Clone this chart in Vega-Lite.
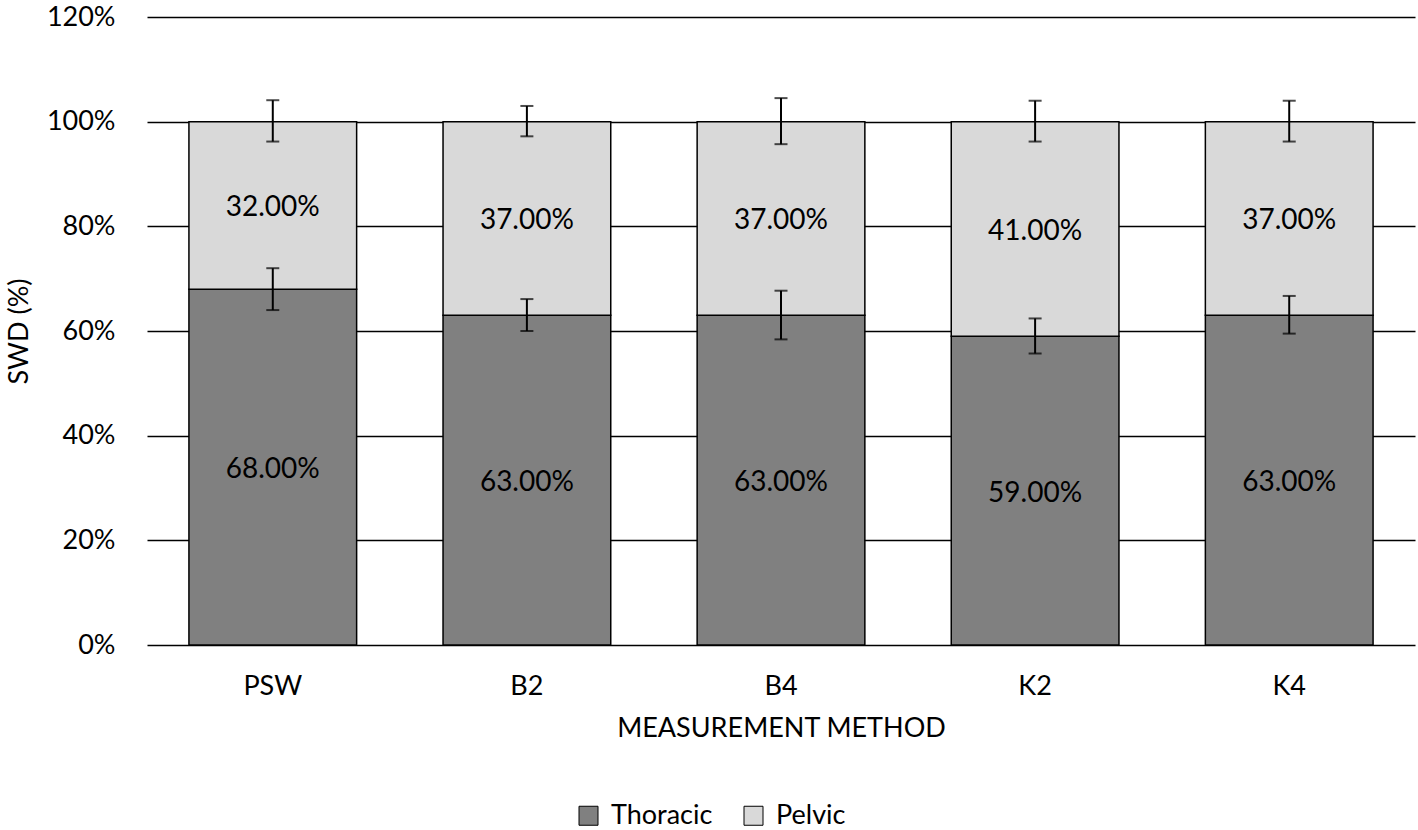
{
  "$schema": "https://vega.github.io/schema/vega-lite/v6.json",
  "autosize": {"type": "none"},
  "width": 1268,
  "height": 628,
  "padding": {"left": 147, "top": 17, "right": 3, "bottom": 185},
  "background": "white",
  "config": {
    "font": "Lato",
    "view": {"stroke": null},
    "axis": {"labelFont": "Lato", "titleFont": "Lato", "labelColor": "#000", "titleColor": "#000", "titleFontWeight": "normal"}
  },
  "data": {
    "values": [
      {"method": "PSW", "part": "Thoracic", "order": 1, "value": 0.68, "lo": 0.64, "hi": 0.72},
      {"method": "PSW", "part": "Pelvic", "order": 2, "value": 0.32, "lo": 0.962, "hi": 1.041},
      {"method": "B2", "part": "Thoracic", "order": 1, "value": 0.63, "lo": 0.60, "hi": 0.661},
      {"method": "B2", "part": "Pelvic", "order": 2, "value": 0.37, "lo": 0.972, "hi": 1.03},
      {"method": "B4", "part": "Thoracic", "order": 1, "value": 0.63, "lo": 0.584, "hi": 0.677},
      {"method": "B4", "part": "Pelvic", "order": 2, "value": 0.37, "lo": 0.957, "hi": 1.045},
      {"method": "K2", "part": "Thoracic", "order": 1, "value": 0.59, "lo": 0.557, "hi": 0.624},
      {"method": "K2", "part": "Pelvic", "order": 2, "value": 0.41, "lo": 0.962, "hi": 1.04},
      {"method": "K4", "part": "Thoracic", "order": 1, "value": 0.63, "lo": 0.595, "hi": 0.667},
      {"method": "K4", "part": "Pelvic", "order": 2, "value": 0.37, "lo": 0.962, "hi": 1.04}
    ]
  },
  "encoding": {
    "x": {
      "field": "method", "type": "nominal", "sort": ["PSW", "B2", "B4", "K2", "K4"],
      "scale": {"paddingInner": 0.34, "paddingOuter": 0.165},
      "axis": {"title": "MEASUREMENT METHOD", "labelAngle": 0, "labelFontSize": 27, "titleFontSize": 27, "labelPadding": 28, "titlePadding": 16, "ticks": false, "domain": false}
    }
  },
  "layer": [
    {
      "mark": {"type": "bar", "stroke": "#000", "strokeWidth": 1.5},
      "encoding": {
        "y": {
          "field": "value", "type": "quantitative", "stack": "zero",
          "scale": {"domain": [0, 1.2]},
          "axis": {"title": "SWD (%)", "format": ".0%", "values": [0, 0.2, 0.4, 0.6, 0.8, 1.0, 1.2], "labelFontSize": 27, "titleFontSize": 27, "labelPadding": 32, "titlePadding": 13, "ticks": false, "domain": false, "grid": true, "gridColor": "#000", "gridWidth": 1.5, "gridOpacity": 1}
        },
        "color": {
          "field": "part", "type": "nominal",
          "scale": {"domain": ["Thoracic", "Pelvic"], "range": ["#808080", "#d9d9d9"]},
          "legend": {"title": null, "orient": "none", "legendX": 428, "legendY": 785, "direction": "horizontal", "symbolType": "square", "symbolSize": 361, "symbolStrokeColor": "#000", "symbolStrokeWidth": 1, "labelFontSize": 27, "labelFont": "Lato", "labelColor": "#000", "labelOffset": 9, "columnPadding": 27, "padding": 0}
        },
        "order": {"field": "order", "type": "quantitative"}
      }
    },
    {
      "transform": [
        {"stack": "value", "groupby": ["method"], "sort": [{"field": "order", "order": "ascending"}], "as": ["y0", "y1"]},
        {"calculate": "(datum.y0 + datum.y1) / 2", "as": "mid"}
      ],
      "mark": {"type": "text", "fontSize": 28, "font": "Lato", "color": "#000", "dy": 3},
      "encoding": {
        "y": {"field": "mid", "type": "quantitative"},
        "text": {"field": "value", "type": "quantitative", "format": ".2%"}
      }
    },
    {
      "mark": {"type": "rule", "color": "#000", "strokeWidth": 2},
      "encoding": {
        "y": {"field": "lo", "type": "quantitative"},
        "y2": {"field": "hi"}
      }
    },
    {
      "mark": {"type": "tick", "color": "#000", "thickness": 2, "size": 13},
      "encoding": {
        "y": {"field": "lo", "type": "quantitative"}
      }
    },
    {
      "mark": {"type": "tick", "color": "#000", "thickness": 2, "size": 13},
      "encoding": {
        "y": {"field": "hi", "type": "quantitative"}
      }
    }
  ]
}
